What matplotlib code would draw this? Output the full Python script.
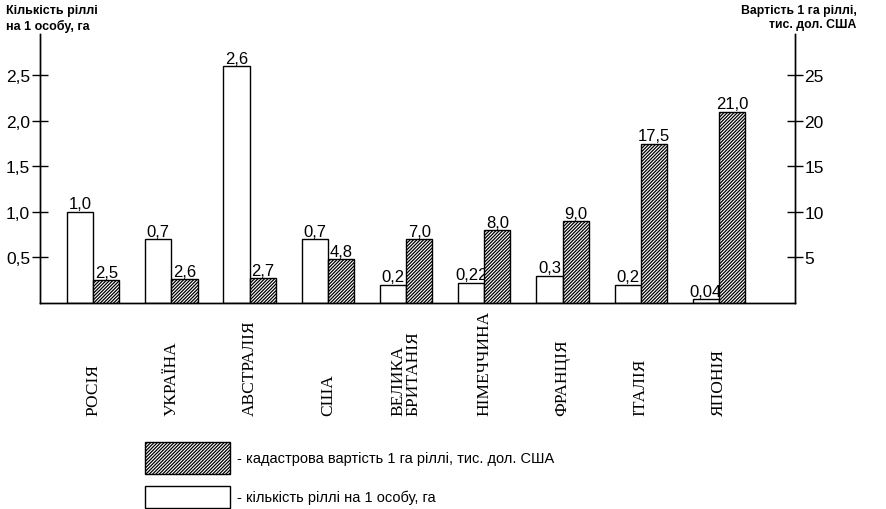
import matplotlib.pyplot as plt
from matplotlib.patches import Rectangle
from matplotlib.transforms import blended_transform_factory
import numpy as np

plt.rcParams['font.family'] = ['Liberation Sans', 'DejaVu Sans']
plt.rcParams['hatch.linewidth'] = 0.9

countries = ['РОСІЯ', 'УКРАЇНА', 'АВСТРАЛІЯ', 'США', 'ВЕЛИКА\nБРИТАНІЯ',
             'НІМЕЧЧИНА', 'ФРАНЦІЯ', 'ІТАЛІЯ', 'ЯПОНІЯ']
land_per_person = [1.0, 0.7, 2.6, 0.7, 0.2, 0.22, 0.3, 0.2, 0.04]
land_labels = ['1,0', '0,7', '2,6', '0,7', '0,2', '0,22', '0,3', '0,2', '0,04']
cadastral_value = [2.5, 2.6, 2.7, 4.8, 7.0, 8.0, 9.0, 17.5, 21.0]
value_labels = ['2,5', '2,6', '2,7', '4,8', '7,0', '8,0', '9,0', '17,5', '21,0']
left_ticks = [0.5, 1.0, 1.5, 2.0, 2.5]
left_tick_labels = ['0,5', '1,0', '1,5', '2,0', '2,5']
right_ticks = [5, 10, 15, 20, 25]

fig = plt.figure(figsize=(8.86, 5.10), dpi=100)
ax = fig.add_axes([0.0451, 0.404, 0.852, 0.527])
ax2 = ax.twinx()

x = np.arange(len(countries))
w = 0.335

ax.bar(x - w / 2, land_per_person, w, color='white', edgecolor='black', linewidth=1.0)
ax2.bar(x + w / 2, cadastral_value, w, color='white', edgecolor='black',
        hatch='//////////', linewidth=1.0)

for xi, v, s in zip(x, land_per_person, land_labels):
    ax.text(xi - w / 2, v + 0.005, s, ha='center', va='bottom', fontsize=12)
for xi, v, s in zip(x, cadastral_value, value_labels):
    ax2.text(xi + w / 2, v + 0.05, s, ha='center', va='bottom', fontsize=12)

ax.set_xlim(-0.68, 8.97)
ax.set_ylim(0, 2.95)
ax2.set_ylim(0, 29.5)

ax.set_yticks(left_ticks)
ax.set_yticklabels(left_tick_labels, fontsize=12.5)
ax2.set_yticks(right_ticks)
ax2.set_yticklabels([str(t) for t in right_ticks], fontsize=12.5)
ax.tick_params(axis='y', direction='inout', length=12, width=1.0, pad=1)
ax2.tick_params(axis='y', direction='inout', length=12, width=1.0, pad=1)
ax.set_xticks([])

# country names, rotated and anchored at their bottom end
names_tr = blended_transform_factory(ax.transData, fig.transFigure)
for xi, name in zip(x, countries):
    ax.text(xi, 1 - 416 / 510, name, rotation=90, ha='center', va='bottom',
            family='Liberation Serif', fontsize=12.5, linespacing=0.95,
            multialignment='left', transform=names_tr, clip_on=False)

for a in (ax, ax2):
    a.spines['top'].set_visible(False)
    for sp in ('left', 'right', 'bottom'):
        a.spines[sp].set_linewidth(1.0)

fig.text(0.007, 0.99, 'Кількість ріллі\nна 1 особу, га', ha='left', va='top',
         fontsize=9, fontweight='bold', linespacing=1.25)
fig.text(0.967, 0.99, 'Вартість 1 га ріллі,\nтис. дол. США', ha='right', va='top',
         fontsize=8.8, fontweight='bold', linespacing=1.25, multialignment='right')

# legend drawn by hand below the country names
fig.add_artist(Rectangle((145 / 886, 1 - 475 / 510), 85 / 886, 32 / 510,
                         transform=fig.transFigure, facecolor='white',
                         edgecolor='black', hatch='//////////', linewidth=1.0))
fig.add_artist(Rectangle((145 / 886, 1 - 509 / 510), 85 / 886, 22 / 510,
                         transform=fig.transFigure, facecolor='white',
                         edgecolor='black', linewidth=1.0))
fig.text(237 / 886, 1 - 459 / 510, '- кадастрова вартість 1 га ріллі, тис. дол. США',
         va='center', fontsize=10.5)
fig.text(237 / 886, 1 - 498 / 510, '- кількість ріллі на 1 особу, га',
         va='center', fontsize=10.5)

fig.savefig('out.png', dpi=100)
